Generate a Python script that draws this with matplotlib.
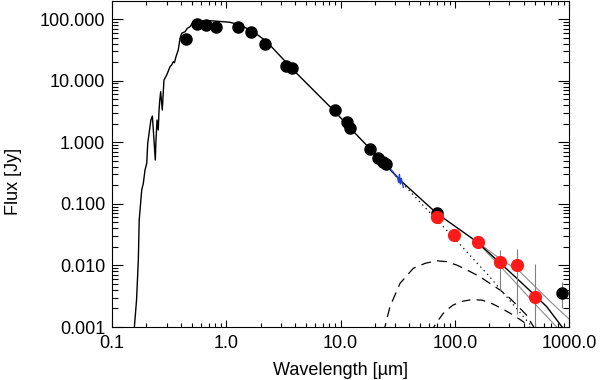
import matplotlib
matplotlib.use('Agg')
import matplotlib.pyplot as plt
from matplotlib.ticker import FormatStrFormatter, LogLocator, NullFormatter

plt.rcParams['font.family'] = ['Liberation Sans', 'DejaVu Sans']

# Total model: stellar photosphere (jagged in the UV) + dust disk at long wavelengths
model_wave = [0.150, 0.157, 0.164, 0.170, 0.173, 0.176, 0.182, 0.188, 0.1945, 0.2014,
              0.2054, 0.211, 0.219, 0.2255, 0.2299, 0.2393, 0.2427, 0.2478, 0.254, 0.258,
              0.262, 0.2667, 0.2754, 0.285, 0.301, 0.322, 0.333, 0.344, 0.352, 0.363,
              0.380, 0.394, 0.407, 0.436, 0.456, 0.482, 0.515, 0.56, 0.61, 0.67,
              0.721, 0.80, 0.942, 1.079, 1.32, 1.725, 2.26, 3.86, 8.65, 14.8,
              33.2, 69.5, 100, 155.6, 250, 348, 500, 638, 870, 950]
model_flux = [0.0005, 0.001, 0.00274, 0.0122, 0.0546, 0.0793, 0.1675, 0.215, 0.354, 0.454,
              0.96, 1.39, 2.29, 2.66, 1.58, 0.514, 1.09, 2.29, 1.58, 3.3,
              4.8, 6.6, 3.33, 10.2, 12.3, 16.8, 18.0, 20.3, 19.5, 24.4,
              31.4, 48.6, 58.6, 62.2, 70.6, 75.0, 90.4, 91.5, 93.8, 92.0,
              93.8, 92.5, 90.4, 88.4, 80.0, 62.3, 42.9, 14.9, 3.33, 1.156,
              0.243, 0.0701, 0.0435, 0.0243, 0.0109, 0.0062, 0.0033, 0.00214, 0.001, 0.0008]

# Uncertainty envelope of the total model
upper_wave = [155.6, 250, 372, 700, 1000]
upper_flux = [0.0243, 0.0128, 0.0079, 0.0025, 0.00135]
lower_wave = [155.6, 300, 500, 780, 850]
lower_flux = [0.0243, 0.0068, 0.0024, 0.001, 0.0008]

# Photosphere alone (Rayleigh-Jeans tail)
photo_wave = [30, 50, 100, 200, 500]
photo_flux = [0.29, 0.105, 0.027, 0.0067, 0.0009]

# Dust components
warm_wave = [24.0, 24.5, 27.1, 33.2, 43.4, 55, 69.5, 85, 104, 130, 166, 200, 249, 300, 348, 420, 500]
warm_flux = [0.0008, 0.00101, 0.00214, 0.00512, 0.00897, 0.0108, 0.0119, 0.0115, 0.01014, 0.0083,
             0.00656, 0.0052, 0.00399, 0.003, 0.00228, 0.0016, 0.00095]
cold_wave = [64, 65.8, 72, 79.4, 85, 97, 115, 141.6, 175, 216, 270, 324, 390, 470]
cold_flux = [0.0008, 0.00101, 0.0013, 0.00167, 0.00189, 0.00228, 0.0026, 0.00279, 0.00272,
             0.00236, 0.0019, 0.00157, 0.00125, 0.00095]

# Mid-IR spectrum
spec_wave = [26.0, 28.0, 30.0, 31.5, 32.3, 32.8, 33.4, 34.0, 35.5]
spec_flux = [0.40, 0.35, 0.30, 0.275, 0.22, 0.30, 0.21, 0.26, 0.185]

# Photometry (black) and far-IR / submm photometry (red)
black_wave = [0.44, 0.55, 0.66, 0.81, 1.26, 1.65, 2.2, 3.33, 3.78, 8.95, 11.5, 12.1,
              18.1, 21.5, 23.5, 25.0, 70.3, 870]
black_flux = [47, 83, 79, 73, 75, 61, 40, 17.3, 15.8, 3.3, 2.15, 1.73,
              0.767, 0.55, 0.48, 0.44, 0.072, 0.0036]
black_lo = [0, 0, 0, 0, 0, 0, 0, 0, 0, 0, 0, 0, 0, 0, 0, 0, 0, 0.0016]
black_hi = [0, 0, 0, 0, 0, 0, 0, 0, 0, 0, 0, 0, 0, 0, 0, 0, 0, 0.0017]

red_wave = [69.7, 99, 159, 249, 350, 500]
red_flux = [0.062, 0.031, 0.024, 0.0112, 0.0101, 0.00303]
red_lo = [0.0, 0.0, 0.0, 0.0072, 0.0085, 0.0027]
red_hi = [0.0, 0.0, 0.0, 0.0067, 0.0085, 0.0076]


def main():
    fig = plt.figure(figsize=(6, 3.8), dpi=100)
    ax = fig.add_axes([112 / 600, 53 / 380, 457 / 600, 326 / 380])

    ax.plot(warm_wave, warm_flux, color='black', lw=0.9, dashes=(8, 5))
    ax.plot(cold_wave, cold_flux, color='black', lw=0.9, dashes=(7, 5))
    ax.plot(photo_wave, photo_flux, color='black', lw=0.9, linestyle=(0, (1, 3)))
    ax.plot(upper_wave, upper_flux, color='#8c8c8c', lw=0.8)
    ax.plot(lower_wave, lower_flux, color='#8c8c8c', lw=0.8)
    ax.plot(model_wave, model_flux, color='black', lw=1.0)
    ax.plot(spec_wave, spec_flux, color='#1f3fd0', lw=1.0)

    ax.errorbar(black_wave, black_flux, yerr=[black_lo, black_hi], fmt='none',
                ecolor='#808080', elinewidth=0.8, capsize=0)
    ax.errorbar(red_wave, red_flux, yerr=[red_lo, red_hi], fmt='none',
                ecolor='#808080', elinewidth=0.8, capsize=0)
    ax.plot(black_wave, black_flux, 'o', color='black', ms=8, zorder=5)
    ax.plot(red_wave, red_flux, 'o', color='#ff1a1a', ms=8.5, zorder=6)

    ax.set_xscale('log')
    ax.set_yscale('log')
    ax.set_xlim(0.1, 1000)
    ax.set_ylim(0.001, 196)

    ax.xaxis.set_major_locator(LogLocator(base=10, numticks=10))
    ax.yaxis.set_major_locator(LogLocator(base=10, numticks=10))
    ax.xaxis.set_minor_locator(LogLocator(base=10, subs=range(2, 10), numticks=20))
    ax.yaxis.set_minor_locator(LogLocator(base=10, subs=range(2, 10), numticks=20))
    ax.xaxis.set_major_formatter(FormatStrFormatter('%.1f'))
    ax.yaxis.set_major_formatter(FormatStrFormatter('%.3f'))
    ax.xaxis.set_minor_formatter(NullFormatter())
    ax.yaxis.set_minor_formatter(NullFormatter())

    ax.tick_params(which='both', direction='in', top=True, right=True,
                   labelsize=13, width=0.8)
    ax.tick_params(axis='x', which='major', length=5, pad=6)
    ax.tick_params(axis='x', which='minor', length=3)
    ax.tick_params(axis='y', which='major', length=8, pad=5)
    ax.tick_params(axis='y', which='minor', length=4)
    for sp in ax.spines.values():
        sp.set_linewidth(0.8)

    ax.set_xlabel('Wavelength [\u00b5m]', fontsize=13)
    ax.set_ylabel('Flux [Jy]', fontsize=13)
    ax.xaxis.set_label_coords(0.5, -0.108)
    ax.yaxis.set_label_coords(-0.198, 0.445)

    fig.savefig('out.png', dpi=100)


if __name__ == "__main__":
    main()
